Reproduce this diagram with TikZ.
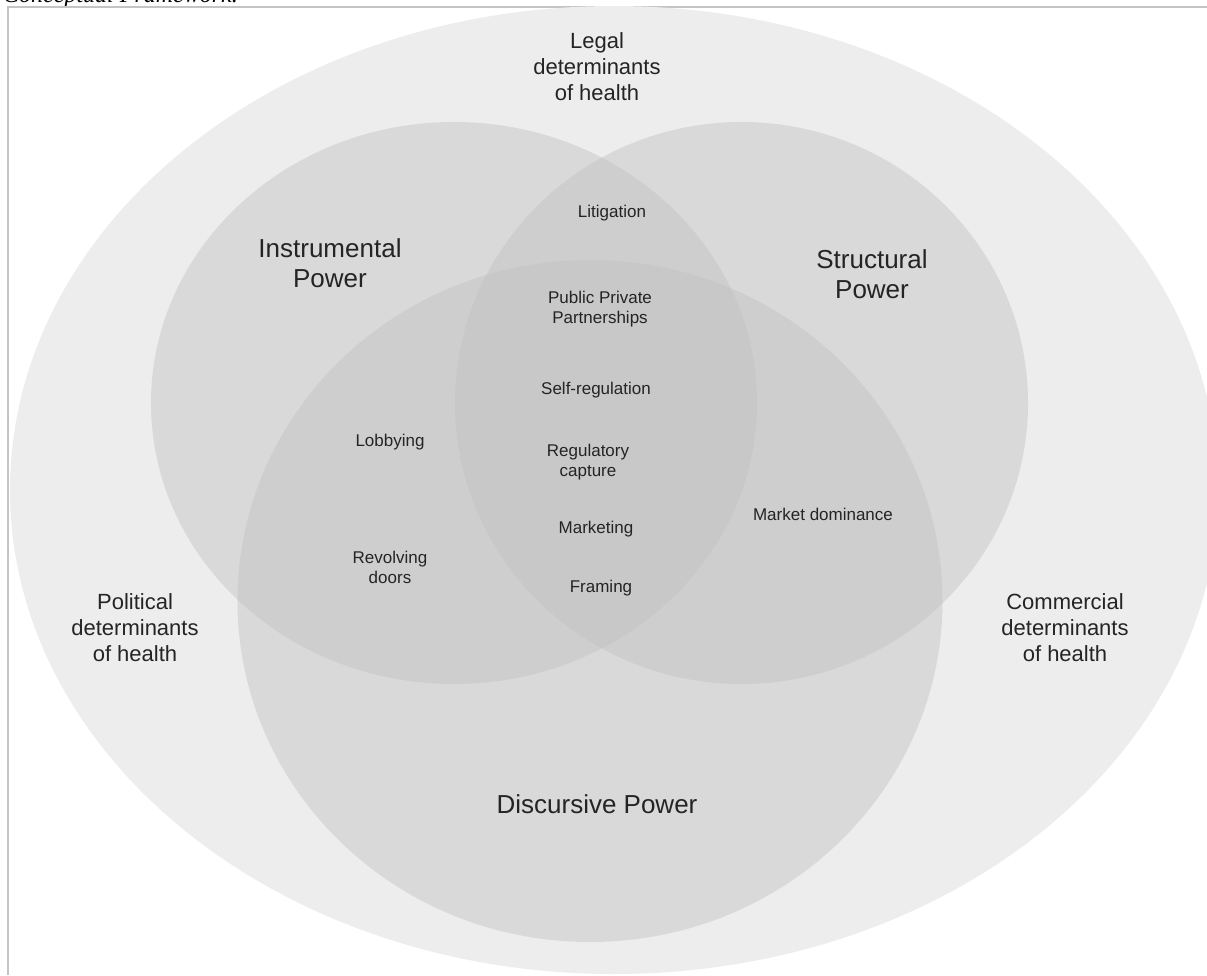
\documentclass[tikz,border=0pt]{standalone}
\usepackage{fontspec}
\setmainfont{Liberation Sans}
\newfontfamily\capfont{Liberation Serif}
\begin{document}
\definecolor{outerfill}{HTML}{EDEDED}
\definecolor{powerfill}{HTML}{C1C1C1}
\definecolor{frameline}{HTML}{C4C4C4}
\definecolor{labeltext}{HTML}{242424}
\begin{tikzpicture}[x=1pt,y=-1pt,
  powerset/.style={fill=powerfill,fill opacity=0.45,draw=none},
  biglabel/.style={text=labeltext,align=center,font=\fontsize{26}{30}\selectfont,inner sep=0pt},
  detlabel/.style={text=labeltext,align=center,font=\fontsize{22}{26}\selectfont,inner sep=0pt},
  smalllabel/.style={text=labeltext,align=center,font=\fontsize{17}{20}\selectfont,inner sep=0pt}]
\useasboundingbox (0,0) rectangle (1207,975);
\fill[white] (0,0) rectangle (1207,975);

% caption running off the top edge
\node[anchor=base west,inner sep=0pt,font=\capfont\itshape\fontsize{24}{28}\selectfont] (caption) at (3,2) {Conceptual Framework.};

% frame of the figure
\draw[frameline,line width=2pt] (8,975) -- (8,7) -- (1207,7);

% outer field
\fill[outerfill] (614,490) ellipse [x radius=604,y radius=484];

% the three forms of power
\path[powerset] (454,403) ellipse [x radius=303,y radius=281];
\path[powerset] (741.5,403) ellipse [x radius=286.5,y radius=281];
\path[powerset] (590,601) ellipse [x radius=352.5,y radius=341];

% field labels
\node[detlabel] (legal) at (597,67) {Legal\\determinants\\of health};
\node[detlabel] (political) at (135,628) {Political\\determinants\\of health};
\node[detlabel] (commercial) at (1065,628) {Commercial\\determinants\\of health};

% power labels
\node[biglabel] (instrumental) at (330,263) {Instrumental\\Power};
\node[biglabel] (structural) at (872,274) {Structural\\Power};
\node[biglabel] (discursive) at (597,804) {Discursive Power};

% mechanisms
\node[smalllabel] (litigation) at (612,213) {Litigation};
\node[smalllabel] (ppp) at (600,309) {Public Private\\Partnerships};
\node[smalllabel] (selfreg) at (596,390) {Self-regulation};
\node[smalllabel] (lobbying) at (390,442) {Lobbying};
\node[smalllabel] (capture) at (588,462) {Regulatory\\capture};
\node[smalllabel] (marketing) at (596,529) {Marketing};
\node[smalllabel] (dominance) at (823,514) {Market dominance};
\node[smalllabel] (revolving) at (390,567) {Revolving\\doors};
\node[smalllabel] (framing) at (601,588) {Framing};
\end{tikzpicture}
\end{document}
